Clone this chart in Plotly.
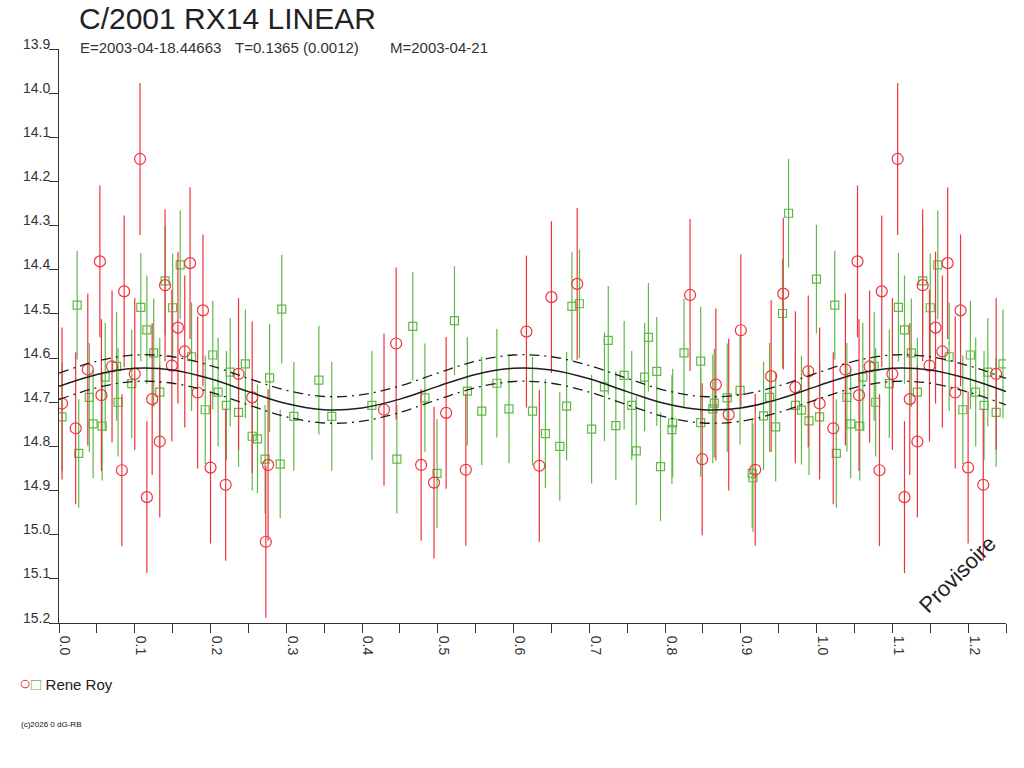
import plotly.graph_objects as go

# --- observations (phase, magnitude) ---
red_phase = [0.004, 0.022, 0.038, 0.054, 0.056, 0.070, 0.086, 0.083, 0.100, 0.107,
             0.116, 0.123, 0.133, 0.140, 0.149, 0.157, 0.166, 0.173, 0.183, 0.190,
             0.200, 0.220, 0.237, 0.255, 0.273, 0.276, 0.429, 0.445, 0.478, 0.495,
             0.511, 0.537, 0.617, 0.634, 0.650, 0.684, 0.833, 0.849, 0.867, 0.884,
             0.900, 0.919, 0.940, 0.956, 0.972, 0.989]
red_mag = [14.703, 14.759, 14.626, 14.381, 14.684, 14.619, 14.449, 14.854, 14.636, 14.149,
           14.915, 14.693, 14.789, 14.435, 14.617, 14.531, 14.585, 14.385, 14.678, 14.492,
           14.848, 14.887, 14.636, 14.689, 15.016, 14.842, 14.717, 14.567, 14.842, 14.882,
           14.724, 14.853, 14.540, 14.844, 14.462, 14.432, 14.457, 14.829, 14.660, 14.728,
           14.537, 14.853, 14.641, 14.454, 14.666, 14.630]

green_phase = [0.004, 0.024, 0.026, 0.040, 0.045, 0.057, 0.061, 0.076, 0.078, 0.096,
               0.108, 0.116, 0.125, 0.133, 0.140, 0.150, 0.160, 0.175, 0.193, 0.203,
               0.210, 0.221, 0.226, 0.237, 0.246, 0.255, 0.262, 0.272, 0.278, 0.292,
               0.294, 0.310, 0.343, 0.360, 0.413, 0.446, 0.467, 0.483, 0.499, 0.522,
               0.539, 0.558, 0.578, 0.594, 0.625, 0.642, 0.661, 0.670, 0.677, 0.687,
               0.703, 0.720, 0.725, 0.735, 0.746, 0.756, 0.762, 0.773, 0.778, 0.789,
               0.794, 0.809, 0.810, 0.825, 0.847, 0.847, 0.863, 0.865, 0.882, 0.899,
               0.915, 0.916, 0.930, 0.938, 0.946, 0.955, 0.963, 0.972, 0.980, 0.990,
               0.9998]
green_mag = [14.733, 14.480, 14.816, 14.689, 14.749, 14.754, 14.643, 14.619, 14.700, 14.658,
             14.485, 14.536, 14.588, 14.677, 14.425, 14.486, 14.389, 14.597, 14.717, 14.593,
             14.677, 14.707, 14.632, 14.723, 14.613, 14.777, 14.783, 14.829, 14.645, 14.840,
             14.489, 14.732, 14.650, 14.732, 14.707, 14.829, 14.528, 14.690, 14.861, 14.515,
             14.675, 14.720, 14.657, 14.715, 14.720, 14.771, 14.800, 14.709, 14.483, 14.477,
             14.761, 14.665, 14.560, 14.753, 14.639, 14.707, 14.810, 14.643, 14.553, 14.630,
             14.846, 14.762, 14.747, 14.588, 14.607, 14.746, 14.715, 14.702, 14.690, 14.673,
             14.861, 14.871, 14.731, 14.689, 14.756, 14.499, 14.272, 14.707, 14.718, 14.742,
             14.421]

RED_ERR = 0.172
GREEN_ERR = 0.123

# --- fitted light curve and envelope ---
fit_phase = [0.00, 0.05, 0.10, 0.15, 0.20, 0.25, 0.30, 0.35, 0.40, 0.45,
             0.50, 0.55, 0.60, 0.65, 0.70, 0.75, 0.80, 0.85, 0.90, 0.95,
             1.00, 1.05, 1.10, 1.15, 1.20, 1.25]
fit_mag = [14.664, 14.637, 14.623, 14.627, 14.647, 14.676, 14.703, 14.717, 14.713, 14.693,
           14.664, 14.637, 14.623, 14.627, 14.647, 14.676, 14.703, 14.717, 14.713, 14.693,
           14.664, 14.637, 14.623, 14.627, 14.647, 14.676]
fit_upper = [14.634, 14.607, 14.593, 14.597, 14.617, 14.646, 14.673, 14.687, 14.683, 14.663,
             14.634, 14.607, 14.593, 14.597, 14.617, 14.646, 14.673, 14.687, 14.683, 14.663,
             14.634, 14.607, 14.593, 14.597, 14.617, 14.646]
fit_lower = [14.694, 14.667, 14.653, 14.657, 14.677, 14.706, 14.733, 14.747, 14.743, 14.723,
             14.694, 14.667, 14.653, 14.657, 14.677, 14.706, 14.733, 14.747, 14.743, 14.723,
             14.694, 14.667, 14.653, 14.657, 14.677, 14.706]

y_ticks = [13.9, 14.0, 14.1, 14.2, 14.3, 14.4, 14.5, 14.6, 14.7, 14.8, 14.9, 15.0, 15.1, 15.2]

subtitle_parts = ["E=2003-04-18.44663", "T=0.1365 (0.0012)", "M=2003-04-21"]

RED = "#f0323c"
GREEN = "#5fb946"
FONT = "Liberation Sans, Arial, sans-serif"
X_MAX = 1.25


def wrap(phase, mag):
    # phase diagram: points repeated one cycle later up to X_MAX
    xs, ys = list(phase), list(mag)
    for p, m in zip(phase, mag):
        if p + 1 <= X_MAX:
            xs.append(p + 1)
            ys.append(m)
    return xs, ys


rx, ry = wrap(red_phase, red_mag)
gx, gy = wrap(green_phase, green_mag)

fig = go.Figure()

fig.add_trace(go.Scatter(
    x=gx, y=gy, mode="markers",
    marker=dict(symbol="square-open", size=8, color=GREEN, line=dict(width=1.2)),
    error_y=dict(type="constant", value=GREEN_ERR, color=GREEN, thickness=1.2, width=0),
    showlegend=False,
))
fig.add_trace(go.Scatter(
    x=rx, y=ry, mode="markers",
    marker=dict(symbol="circle-open", size=11, color=RED, line=dict(width=1.2)),
    error_y=dict(type="constant", value=RED_ERR, color=RED, thickness=1.2, width=0),
    showlegend=False,
))

for ys, dash, w in [(fit_upper, "10px,5px,2px,5px", 1.3), (fit_lower, "10px,5px,2px,5px", 1.3),
                    (fit_mag, "solid", 1.5)]:
    fig.add_trace(go.Scatter(
        x=fit_phase, y=ys, mode="lines", line=dict(color="#1e1e1e", width=w, dash=dash, shape="spline"),
        showlegend=False, hoverinfo="skip",
    ))

W, H = 1024, 768
L, R, T, B = 59, 18, 49, 145


def px(x):
    return (x - L) / (W - L - R)


def py(y):
    return (H - B - y) / (H - T - B)


fig.add_annotation(x=1.186, y=15.091, text="Provisoire", showarrow=False, textangle=-45,
                   font=dict(family=FONT, size=22, color="#222"))
fig.add_annotation(x=px(77), y=py(19), xref="paper", yref="paper", xanchor="left", yanchor="middle",
                   text="C/2001 RX14 LINEAR", showarrow=False, font=dict(family=FONT, size=30, color="#222"))
for part, x0 in zip(subtitle_parts, [78, 233, 388]):
    fig.add_annotation(x=px(x0), y=py(48), xref="paper", yref="paper", xanchor="left", yanchor="middle",
                       text=part, showarrow=False, font=dict(family=FONT, size=15, color="#333"))
fig.add_annotation(x=px(17), y=py(683), xref="paper", yref="paper", xanchor="left", yanchor="middle",
                   text=(f"<span style='color:{RED};font-size:20px'>○</span>"
                         f"<span style='color:{GREEN};font-size:17px'>□</span> Rene Roy"),
                   showarrow=False, font=dict(family=FONT, size=15, color="#222"))
fig.add_annotation(x=px(19), y=py(724), xref="paper", yref="paper", xanchor="left", yanchor="middle",
                   text="(c)2026 0 dG-RB", showarrow=False, font=dict(family=FONT, size=8, color="#111"))

fig.update_xaxes(
    range=[0, X_MAX], dtick=0.1, tick0=0, tickformat=".1f", tickangle=90, ticklabelshift=6,
    ticks="outside", ticklen=9, tickcolor="#333", showline=True, linecolor="#333", linewidth=1,
    minor=dict(dtick=0.05, ticks="outside", ticklen=9, tickcolor="#333"),
    showgrid=False, zeroline=False, tickfont=dict(family=FONT, size=14, color="#333"),
)
fig.update_yaxes(
    range=[15.2, 13.9], tickvals=y_ticks, ticktext=[f"{v:.1f}" for v in y_ticks],
    ticks="outside", ticklen=9, tickcolor="#333", showline=True, linecolor="#333", linewidth=1,
    ticklabelposition="outside top", ticklabelstandoff=5, ticklabelshift=-5,
    showgrid=False, zeroline=False, tickfont=dict(family=FONT, size=14, color="#333"),
)
fig.update_layout(
    width=W, height=H, margin=dict(l=L, r=R, t=T, b=B),
    paper_bgcolor="white", plot_bgcolor="white", showlegend=False,
)

# drop the default body margin so the figure sits at the window's corner
fig.write_html("out.html", config={"displayModeBar": False},
               post_script="document.body.style.margin = '0';")
